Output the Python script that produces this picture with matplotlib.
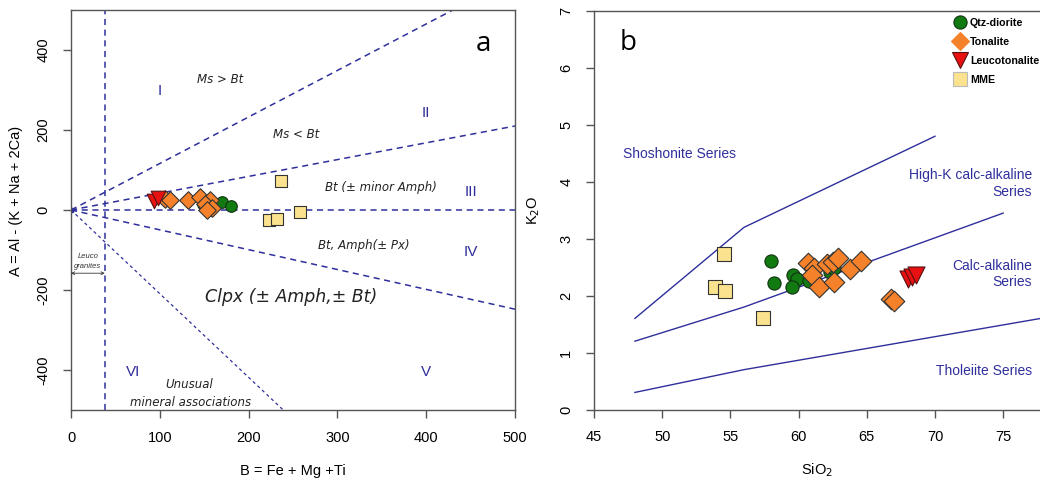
import matplotlib
matplotlib.use("Agg")
import matplotlib.pyplot as plt
from matplotlib.lines import Line2D

# ---------------- data: panel a (B-A diagram) ----------------
qtz_a_B = [149, 170, 180]
qtz_a_A = [15, 20, 10]
ton_a_B = [106, 112, 132, 145, 157, 151, 159, 153]
ton_a_A = [27, 25, 25, 32, 25, 15, 6, 0]
leuco_a_B = [93, 98]
leuco_a_A = [22, 30]
mme_a_B = [236, 258, 223, 232]
mme_a_A = [72, -6, -25, -23]

# boundary rays from the origin (end points)
ray_B = [430, 500, 500, 500, 239]
ray_A = [500, 210, 0, -248, -500]
leuco_limit_B = 38

# ---------------- data: panel b (SiO2-K2O diagram) ----------------
qtz_b_Si = [58.0, 58.2, 59.6, 59.9, 59.5, 60.8, 62.3, 62.6]
qtz_b_K = [2.60, 2.22, 2.36, 2.30, 2.16, 2.25, 2.41, 2.49]
ton_b_Si = [60.7, 61.1, 61.0, 61.5, 62.1, 62.5, 62.9, 62.6, 63.8, 64.6, 66.8, 67.0]
ton_b_K = [2.58, 2.49, 2.36, 2.16, 2.55, 2.59, 2.66, 2.24, 2.47, 2.61, 1.94, 1.90]
leuco_b_Si = [68.0, 68.3, 68.6]
leuco_b_K = [2.30, 2.33, 2.36]
mme_b_Si = [54.5, 53.9, 54.6, 57.4]
mme_b_K = [2.73, 2.15, 2.09, 1.61]

sho_Si = [48, 56, 70]
sho_K = [1.6, 3.2, 4.8]
hk_Si = [48, 56, 75]
hk_K = [1.2, 1.8, 3.45]
tho_Si = [48, 56, 78]
tho_K = [0.3, 0.7, 1.61]

a_xticks = [0, 100, 200, 300, 400, 500]
a_yticks = [-400, -200, 0, 200, 400]
b_xticks = [45, 50, 55, 60, 65, 70, 75]
b_yticks = [0, 1, 2, 3, 4, 5, 6, 7]

# ---------------- style ----------------
plt.rcParams['font.family'] = ['Liberation Sans', 'DejaVu Sans']
plt.rcParams['axes.unicode_minus'] = False
NAVY = '#2f2f9c'
GREEN = '#117a11'
ORANGE = '#f5822a'
RED = '#e81010'
YELLOW = '#fbe28e'
SPINE = '#555555'

fig = plt.figure(figsize=(10.4, 4.82), dpi=100)
W, H = 1040, 482
axA = fig.add_axes([71 / W, 1 - 410 / H, (515 - 71) / W, 400 / H])
axB = fig.add_axes([594 / W, 1 - 409.5 / H, (1040 - 594) / W, 398.5 / H])

for ax in (axA, axB):
    for s in ax.spines.values():
        s.set_color(SPINE)
        s.set_linewidth(1.0)
    ax.tick_params(direction='out', length=6, width=1.0, color=SPINE,
                   labelsize=10.5, pad=9)

# ---------------- panel a ----------------
axA.set_xlim(0, 500)
axA.set_ylim(-500, 500)
for i, (bx, ay) in enumerate(zip(ray_B, ray_A)):
    if i == 4:
        axA.plot([0, bx], [0, ay], color=NAVY, lw=0.9, dashes=(2.5, 2.5), zorder=1)
    else:
        axA.plot([0, bx], [0, ay], color=NAVY, lw=1.1, dashes=(4, 3), zorder=1)
axA.axvline(leuco_limit_B, color=NAVY, lw=1.1, dashes=(4, 3), zorder=1)
axA.plot([0], [0], marker='s', ms=3, color=NAVY, zorder=2)
axA.annotate('', xy=(0, -158), xytext=(leuco_limit_B, -158),
             arrowprops=dict(arrowstyle='<->', color='#333333', lw=0.6,
                             mutation_scale=5, shrinkA=0, shrinkB=0))
axA.text(19, -117, 'Leuco', fontsize=5.5, style='italic', ha='center', va='center', color='#333333')
axA.text(19, -141, 'granites', fontsize=5.5, style='italic', ha='center', va='center', color='#333333')

axA.scatter(mme_a_B, mme_a_A, marker='s', s=75, c=YELLOW, edgecolors='#333333', linewidths=0.8, zorder=3)
axA.scatter(qtz_a_B, qtz_a_A, marker='o', s=70, c=GREEN, edgecolors='#113311', linewidths=0.8, zorder=3)
axA.scatter(ton_a_B, ton_a_A, marker='D', s=80, c=ORANGE, edgecolors='#333333', linewidths=0.8, zorder=4)
axA.scatter(leuco_a_B, leuco_a_A, marker='v', s=110, c=RED, edgecolors='#551111', linewidths=0.8, zorder=4)

for txt, x, y in [('I', 100, 297), ('II', 400, 243), ('III', 450, 45),
                  ('IV', 450, -105), ('V', 400, -405), ('VI', 70, -405)]:
    axA.text(x, y, txt, color=NAVY, fontsize=11, ha='center', va='center')

lab = dict(ha='center', va='center', style='italic', color='#222222', family=['DejaVu Sans'])
axA.text(168, 325, 'Ms > Bt', fontsize=8.5, **lab)
axA.text(253, 188, 'Ms < Bt', fontsize=8.5, **lab)
axA.text(349, 55, 'Bt (± minor Amph)', fontsize=8.5, **lab)
axA.text(330, -88, 'Bt, Amph(± Px)', fontsize=8.5, **lab)
axA.text(248, -218, 'Clpx (± Amph,± Bt)', fontsize=12.5, **lab)
axA.text(133, -435, 'Unusual', fontsize=8.5, **lab)
axA.text(135, -480, 'mineral associations', fontsize=8.5, **lab)
axA.text(464, 415, 'a', fontsize=20, ha='center', va='center', family=['Open Sans'])

axA.set_xticks(a_xticks)
axA.set_yticks(a_yticks)
for t in axA.get_yticklabels():
    t.set_rotation(90)
    t.set_va('center')
axA.set_xlabel('B = Fe + Mg +Ti', fontsize=10.5, labelpad=14)
axA.set_ylabel('A = Al - (K + Na + 2Ca)', fontsize=10.5)
axA.yaxis.set_label_coords(-0.108, 0.522)

# ---------------- panel b ----------------
axB.set_xlim(45, 77.7)
axB.set_ylim(0, 7)
axB.spines['right'].set_visible(False)
for sx, sy in [(sho_Si, sho_K), (hk_Si, hk_K), (tho_Si, tho_K)]:
    axB.plot(sx, sy, color=NAVY, lw=1.0, zorder=1, clip_on=True)

axB.scatter(mme_b_Si, mme_b_K, marker='s', s=95, c=YELLOW, edgecolors='#333333', linewidths=0.8, zorder=3)
axB.scatter(qtz_b_Si, qtz_b_K, marker='o', s=90, c=GREEN, edgecolors='#113311', linewidths=0.8, zorder=3)
axB.scatter(ton_b_Si, ton_b_K, marker='D', s=110, c=ORANGE, edgecolors='#333333', linewidths=0.8, zorder=4)
axB.scatter(leuco_b_Si, leuco_b_K, marker='v', s=150, c=RED, edgecolors='#551111', linewidths=0.8, zorder=4)

reg = dict(color=NAVY, fontsize=10)
axB.text(47.1, 4.48, 'Shoshonite Series', ha='left', va='center', **reg)
axB.text(77.1, 3.97, 'High-K calc-alkaline\nSeries', ha='right', va='center', multialignment='right', linespacing=1.25, **reg)
axB.text(77.1, 2.38, 'Calc-alkaline\nSeries', ha='right', va='center', multialignment='right', linespacing=1.25, **reg)
axB.text(77.1, 0.68, 'Tholeiite Series', ha='right', va='center', **reg)
axB.text(47.5, 6.43, 'b', fontsize=20, ha='center', va='center', family=['Open Sans'])

axB.set_xticks(b_xticks)
axB.set_yticks(b_yticks)
for t in axB.get_yticklabels():
    t.set_rotation(90)
    t.set_va('center')
axB.set_xlabel('SiO$_2$', fontsize=10.5, labelpad=12)
axB.set_ylabel('K$_2$O', fontsize=10.5, labelpad=12)

handles = [
    Line2D([], [], ls='none', marker='o', ms=9.5, mfc=GREEN, mec='#113311', mew=0.8),
    Line2D([], [], ls='none', marker='D', ms=9.5, mfc=ORANGE, mec=ORANGE, mew=0.8),
    Line2D([], [], ls='none', marker='v', ms=11.5, mfc=RED, mec='#551111', mew=0.8),
    Line2D([], [], ls='none', marker='s', ms=9.5, mfc=YELLOW, mec='#bbbbbb', mew=0.8),
]
labels = ['Qtz-diorite', 'Tonalite', 'Leucotonalite', 'MME']
leg = axB.legend(handles, labels, loc='upper left', bbox_to_anchor=(0.797, 0.997),
                 frameon=False, handlelength=1.0, handletextpad=0.4, borderpad=0,
                 labelspacing=0.85, prop=dict(family='Liberation Sans', weight='bold', size=7.7))

fig.savefig('out.png', dpi=100, facecolor='white')
